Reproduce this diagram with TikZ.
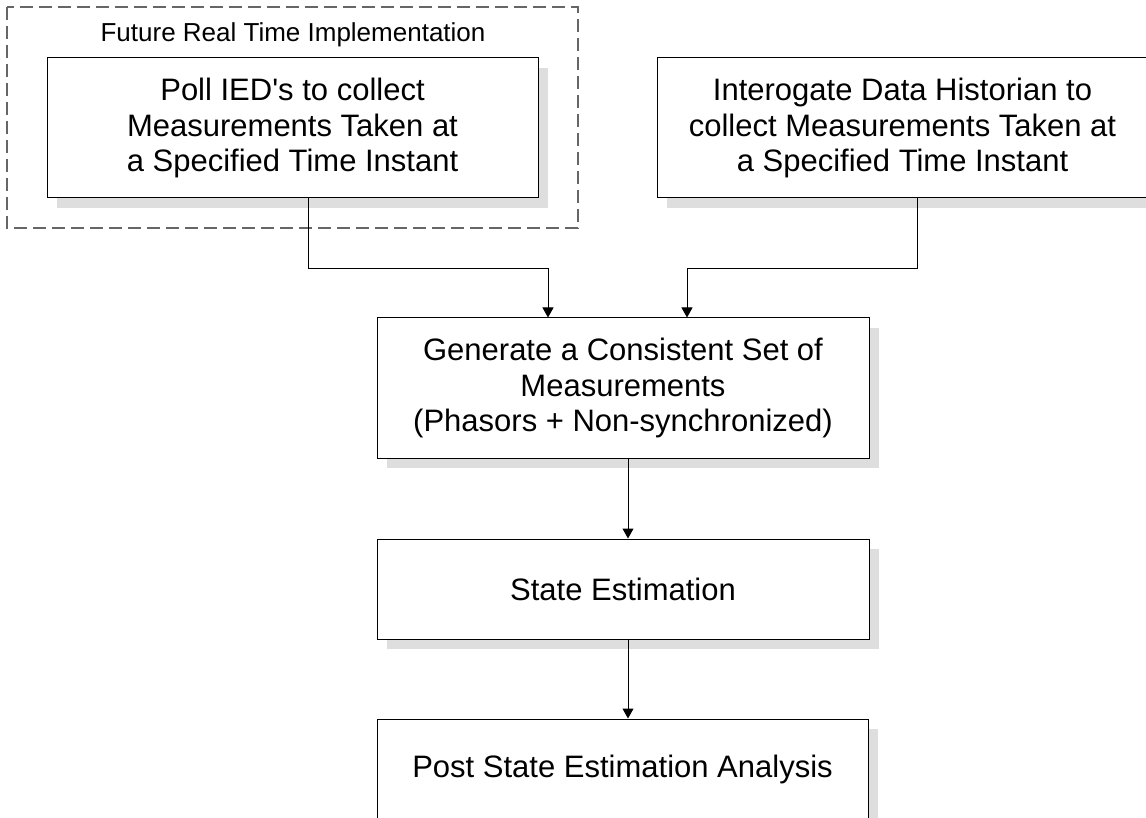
\documentclass[tikz,border=0pt]{standalone}
\usepackage{fontspec}
\newfontfamily\arialfont{Liberation Sans}
\usetikzlibrary{arrows.meta,shadows}
\begin{document}
\begin{tikzpicture}[x=1pt,y=-1pt,
  box/.style={draw=black, line width=1pt, fill=white, inner sep=0pt, align=center,
    font=\arialfont\fontsize{31}{35.5}\selectfont,
    drop shadow={shadow xshift=10pt, shadow yshift=-10pt, fill=black!13, opacity=1}},
  arr/.style={draw=black, line width=1pt, -{Triangle[width=11pt,length=10pt]}},
  grp/.style={draw=black!60, line width=1.2pt, dash pattern=on 13pt off 6pt}]
\useasboundingbox (0,0) rectangle (1146,818);
\clip (0,0) rectangle (1146,818);
\fill[white] (0,0) rectangle (1146,818);
% dashed group
\draw[grp] (7,7) rectangle (578,228);
\node[anchor=base, font=\arialfont\fontsize{26}{30}\selectfont] (lbl) at (293,42) {Future Real Time Implementation};
% boxes
\node[box, minimum width=491pt, minimum height=140pt] (poll) at (292.5,128)
  {Poll IED's to collect\\Measurements Taken at\\a Specified Time Instant};
\node[box, minimum width=491pt, minimum height=140pt] (hist) at (902.5,128)
  {Interogate Data Historian to\\collect Measurements Taken at\\a Specified Time Instant};
\node[box, minimum width=492pt, minimum height=140pt] (gen) at (623,388)
  {Generate a Consistent Set of\\Measurements\\(Phasors + Non-synchronized)};
\node[box, minimum width=492pt, minimum height=100pt] (state) at (623,589)
  {State Estimation};
\node[box, minimum width=491pt, minimum height=100pt] (post) at (622.5,769)
  {Post State Estimation Analysis};
% connectors
\draw[arr] ([xshift=15.5pt]poll.south) -- ++(0,70) -| ([xshift=-75pt]gen.north);
\draw[arr] ([xshift=14.5pt]hist.south) -- ++(0,70) -| ([xshift=64pt]gen.north);
\draw[arr] ([xshift=5pt]gen.south) -- ([xshift=5pt]state.north);
\draw[arr] ([xshift=5pt]state.south) -- ([xshift=5.5pt]post.north);
\end{tikzpicture}
\end{document}
